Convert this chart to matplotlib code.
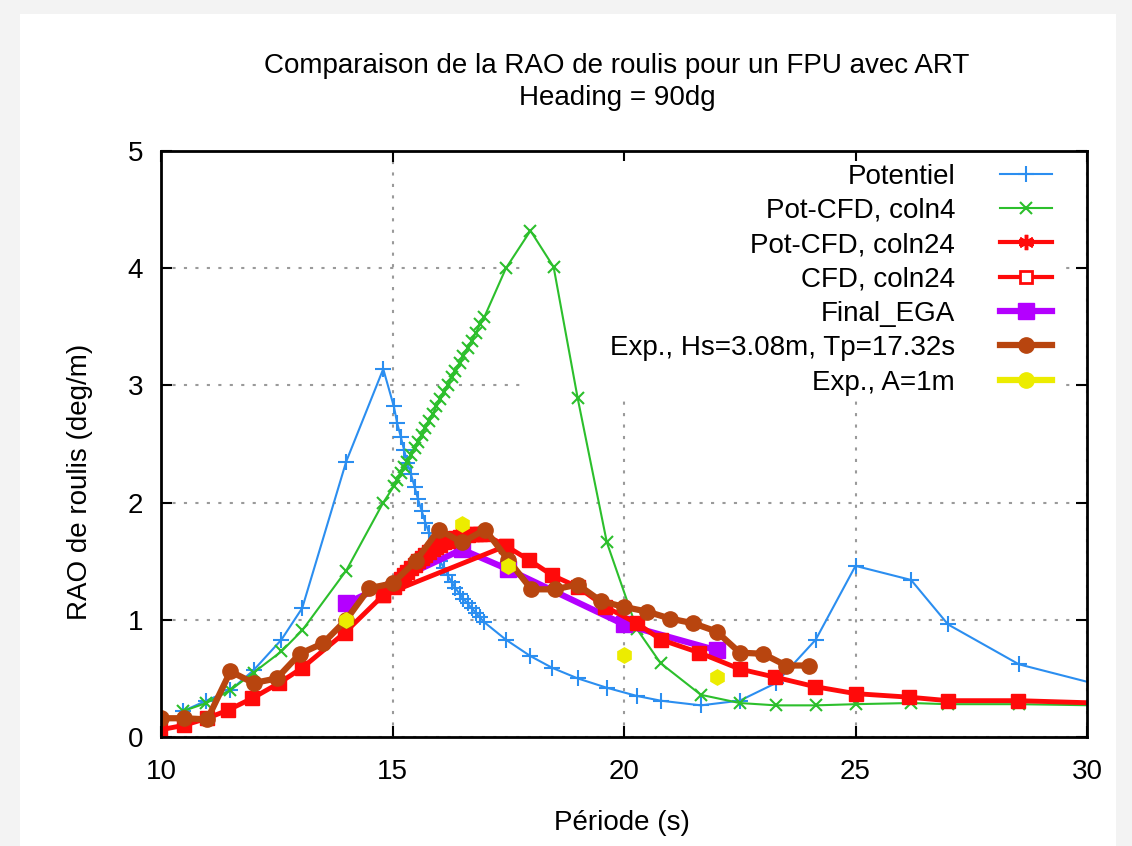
import matplotlib
matplotlib.use("Agg")
import matplotlib.pyplot as plt
from matplotlib.lines import Line2D
from matplotlib.patches import Rectangle

plt.rcParams['font.family'] = ['Liberation Sans', 'DejaVu Sans']

# ---------------- data ----------------
pot_x = [10.47, 10.98, 11.5, 12.0, 12.6, 13.05, 14.0, 14.8,
         15.03, 15.10, 15.18, 15.25, 15.32, 15.40, 15.48, 15.55, 15.63, 15.71,
         15.79, 15.87, 15.95, 16.03, 16.11, 16.19, 16.28, 16.36, 16.45, 16.53,
         16.62, 16.71, 16.80, 16.89, 16.98,
         17.45, 17.98, 18.45, 19.0, 19.63, 20.28, 20.79, 21.66, 22.5, 23.28,
         24.14, 25.0, 26.2, 27.0, 28.53, 31.4]
pot_y = [0.22, 0.31, 0.40, 0.57, 0.83, 1.10, 2.35, 3.14,
         2.82, 2.68, 2.56, 2.45, 2.34, 2.24, 2.13, 2.03, 1.93, 1.83,
         1.74, 1.65, 1.57, 1.50, 1.44, 1.38, 1.32, 1.27, 1.22, 1.18,
         1.14, 1.10, 1.06, 1.02, 0.98,
         0.83, 0.69, 0.59, 0.50, 0.42, 0.35, 0.31, 0.27, 0.31, 0.46,
         0.83, 1.46, 1.34, 0.96, 0.62, 0.33]

c4_x = [10.47, 10.98, 11.5, 12.0, 12.6, 13.05, 14.0, 14.8,
        15.03, 15.10, 15.18, 15.25, 15.32, 15.40, 15.48, 15.55, 15.63, 15.71,
        15.79, 15.87, 15.95, 16.03, 16.11, 16.19, 16.28, 16.36, 16.45, 16.53,
        16.62, 16.71, 16.80, 16.89, 16.98,
        17.45, 17.98, 18.48, 19.0, 19.63, 20.28, 20.79, 21.66, 22.5, 23.28,
        24.14, 25.0, 26.2, 27.0, 28.53, 30.2]
c4_y = [0.22, 0.29, 0.40, 0.55, 0.73, 0.91, 1.42, 2.00,
        2.14, 2.19, 2.25, 2.30, 2.35, 2.41, 2.47, 2.52, 2.58, 2.64,
        2.70, 2.76, 2.82, 2.88, 2.94, 3.00, 3.07, 3.12, 3.19, 3.25,
        3.32, 3.38, 3.45, 3.52, 3.58,
        4.00, 4.32, 4.01, 2.89, 1.66, 0.92, 0.63, 0.36, 0.29, 0.27,
        0.27, 0.28, 0.29, 0.28, 0.28, 0.27]

potcfd24_x = [14.8, 15.03, 15.10, 15.18, 15.25, 15.32, 15.40, 15.48, 15.55, 15.63,
              15.71, 15.79, 15.87, 15.95, 16.03, 16.11, 16.19, 16.28, 16.36,
              16.45, 16.53, 16.62, 16.71, 16.80, 16.89, 16.98, 17.45]
potcfd24_y = [1.21, 1.28, 1.31, 1.35, 1.38, 1.41, 1.44, 1.47, 1.50, 1.53,
              1.55, 1.58, 1.60, 1.62, 1.64, 1.66, 1.67, 1.69, 1.70,
              1.71, 1.72, 1.72, 1.73, 1.73, 1.73, 1.73, 1.63]

cfd24_x = [9.97, 10.5, 11.0, 11.45, 11.97, 12.55, 13.05, 13.97, 14.8,
           17.45, 17.95, 18.45, 19.0, 19.6, 20.28, 20.8, 21.62, 22.5, 23.27,
           24.12, 25.0, 26.15, 27.0, 28.52, 30.2]
cfd24_y = [0.06, 0.10, 0.16, 0.23, 0.33, 0.46, 0.59, 0.89, 1.21,
           1.63, 1.51, 1.38, 1.28, 1.11, 0.97, 0.83, 0.72, 0.58, 0.51,
           0.43, 0.37, 0.34, 0.31, 0.31, 0.29]

ega_x = [14.0, 16.5, 17.5, 20.0, 22.0]
ega_y = [1.14, 1.60, 1.43, 0.96, 0.74]

exp_hs_x = [10.0, 10.5, 11.0, 11.5, 12.0, 12.5, 13.0, 13.5, 14.0, 14.5, 15.0,
            15.5, 16.0, 16.5, 17.0, 17.5, 18.0, 18.5, 19.0, 19.5, 20.0, 20.5,
            21.0, 21.5, 22.0, 22.5, 23.0, 23.5, 24.0]
exp_hs_y = [0.16, 0.16, 0.15, 0.56, 0.46, 0.50, 0.71, 0.80, 1.00, 1.27, 1.31,
            1.50, 1.77, 1.66, 1.77, 1.51, 1.26, 1.26, 1.30, 1.16, 1.11, 1.07,
            1.01, 0.97, 0.90, 0.72, 0.71, 0.61, 0.61]

exp_a_x = [14.0, 16.5, 17.5, 20.0, 22.0]
exp_a_y = [1.00, 1.82, 1.46, 0.70, 0.51]

labels = ["Potentiel", "Pot-CFD, coln4", "Pot-CFD, coln24", "CFD, coln24",
          "Final_EGA", "Exp., Hs=3.08m, Tp=17.32s", "Exp., A=1m"]
x_ticks = [10, 15, 20, 25, 30]
y_ticks = [0, 1, 2, 3, 4, 5]

# ---------------- colours ----------------
c_blue = "#2b8ef0"
c_green = "#2cbf2c"
c_red = "#ff0a0a"
c_purple = "#b400ff"
c_brown = "#b8450f"
c_yellow = "#ecec00"

FS = 20

# ---------------- figure ----------------
W, H = 1132, 846
fig = plt.figure(figsize=(W / 100, H / 100), dpi=100, facecolor="#f3f3f3")
fig.patches.append(Rectangle((20 / W, 0), (1116 - 20) / W, (H - 14) / H,
                             transform=fig.transFigure, facecolor="white",
                             edgecolor="none", zorder=-10))
ax = fig.add_axes([161 / W, (H - 737) / H, (1087 - 161) / W, (737 - 151) / H])
ax.set_facecolor("white")
ax.set_axisbelow(True)

# key area (gnuplot leaves the grid out of the key box)
ax.add_patch(Rectangle(((523 - 161) / 926, (737 - 401) / 586),
                       (1066 - 523) / 926, (401 - 161) / 586,
                       transform=ax.transAxes, facecolor="white",
                       edgecolor="none", zorder=1))

ax.plot(pot_x, pot_y, color=c_blue, lw=1.5, marker="+", ms=11, mew=1.5, zorder=2.0)
ax.plot(c4_x, c4_y, color=c_green, lw=1.5, marker="x", ms=9, mew=1.5, zorder=2.1)
ax.plot(ega_x, ega_y, color=c_purple, lw=4.5, marker="s", ms=11, zorder=2.2)
ax.plot(cfd24_x, cfd24_y, color=c_red, lw=3.5, marker="s", ms=10, zorder=2.3)
ax.plot(potcfd24_x, potcfd24_y, color=c_red, lw=3.5, marker="s", ms=10, zorder=2.4)
ax.plot(exp_hs_x, exp_hs_y, color=c_brown, lw=4.5, marker="o", ms=11, zorder=2.5)
ax.plot(exp_a_x, exp_a_y, color=c_yellow, lw=0, marker="h", ms=11, zorder=2.6)

ax.set_xlim(10, 30)
ax.set_ylim(0, 5)
ax.set_xticks(x_ticks)
ax.set_yticks(y_ticks)
ax.tick_params(direction="in", top=True, right=True, length=8, width=1.5,
               labelsize=FS, pad=16, colors="black")
ax.tick_params(axis="y", pad=13)
for s in ax.spines.values():
    s.set_linewidth(2)
    s.set_zorder(3)
ax.grid(True, color="#9a9a9a", linestyle=(0, (1.5, 4)), linewidth=1.5)

ax.set_xlabel("Période (s)", fontsize=FS)
ax.xaxis.label.set_va("center")
ax.xaxis.set_label_coords((622 - 161) / 926, (737 - 823) / 586)
ax.set_ylabel("RAO de roulis (deg/m)", fontsize=FS)
ax.yaxis.label.set_va("center")
ax.yaxis.set_label_coords((80 - 161) / 926, (737 - 482) / 586)

fig.text(617 / W, 1 - 66 / H, "Comparaison de la RAO de roulis pour un FPU avec ART",
         ha="center", va="center", fontsize=FS)
fig.text(617 / W, 1 - 98 / H, "Heading = 90dg", ha="center", va="center", fontsize=FS)

handles = [
    Line2D([], [], color=c_blue, lw=1.5, marker="+", ms=11, mew=1.5),
    Line2D([], [], color=c_green, lw=1.5, marker="x", ms=9, mew=1.5),
    Line2D([], [], color=c_red, lw=3, marker=(6, 2, 0), ms=11, mew=2.5),
    Line2D([], [], color=c_red, lw=3, marker="s", ms=8, mfc="white", mew=2),
    Line2D([], [], color=c_purple, lw=4.5, marker="s", ms=12),
    Line2D([], [], color=c_brown, lw=4.5, marker="o", ms=11),
    Line2D([], [], color=c_yellow, lw=4.5, marker="o", ms=11),
]
leg = ax.legend(handles, labels, loc="upper right",
                bbox_to_anchor=((1058 - 161) / 926, (737 - 158) / 586),
                markerfirst=False, fontsize=FS, frameon=False,
                handlelength=1.9, handletextpad=1.6, labelspacing=0.3,
                borderpad=0.2, borderaxespad=0)
leg.set_zorder(1.5)

fig.savefig("out.png", dpi=100, facecolor=fig.get_facecolor())
